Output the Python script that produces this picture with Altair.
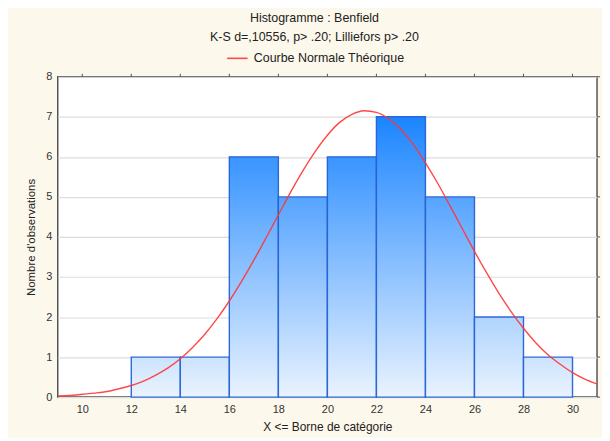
import altair as alt
import pandas as pd

# ---- data ----
bin_lo = [12, 14, 16, 18, 20, 22, 24, 26, 28]
bin_hi = [14, 16, 18, 20, 22, 24, 26, 28, 30]
counts = [1, 1, 6, 5, 6, 7, 5, 2, 1]

curve_x = [9, 9.5, 10, 10.5, 11, 11.5, 12, 12.5, 13, 13.5, 14, 14.5, 15, 15.5,
           16, 16.5, 17, 17.5, 18, 18.5, 19, 19.5, 20, 20.5, 21, 21.5, 22, 22.5,
           23, 23.5, 24, 24.5, 25, 25.5, 26, 26.5, 27, 27.5, 28, 28.5, 29, 29.5,
           30, 30.5, 31]
curve_y = [0.03, 0.04, 0.07, 0.10, 0.14, 0.21, 0.29, 0.40, 0.55, 0.73, 0.96, 1.24,
           1.57, 1.96, 2.40, 2.89, 3.42, 3.98, 4.55, 5.12, 5.65, 6.13, 6.54, 6.86,
           7.06, 7.15, 7.11, 6.95, 6.68, 6.31, 5.85, 5.34, 4.78, 4.21, 3.64, 3.10,
           2.59, 2.13, 1.72, 1.36, 1.06, 0.82, 0.61, 0.45, 0.33]

x_ticks = [10, 12, 14, 16, 18, 20, 22, 24, 26, 28, 30]
y_ticks = [0, 1, 2, 3, 4, 5, 6, 7, 8]

title_text = "Histogramme : Benfield"
subtitle_text = "K-S d=,10556, p> .20; Lilliefors p> .20"
legend_label = "Courbe Normale Théorique"

bars = pd.DataFrame({"lo": bin_lo, "hi": bin_hi, "count": counts})
curve = pd.DataFrame({"x": curve_x, "y": curve_y, "serie": legend_label})
xt = pd.DataFrame({"t": x_ticks})
yt = pd.DataFrame({"t": y_ticks})

FONT = "Liberation Sans"
W, H = 542, 322
xscale = alt.Scale(domain=[9, 31], nice=False, zero=False)
yscale = alt.Scale(domain=[0, 8], nice=False)

BOTTOM = (234, 243, 254)
TOP = (27, 133, 255)
max_count = max(counts)


def mix(t):
    r, g, b = (round(BOTTOM[i] + (TOP[i] - BOTTOM[i]) * t) for i in range(3))
    return f"#{r:02x}{g:02x}{b:02x}"


x_bottom = alt.Axis(values=x_ticks, title="X <= Borne de catégorie", grid=False,
                    ticks=False, domain=False, labelPadding=6, titlePadding=8,
                    titleFontSize=12, format="d")
y_left = alt.Axis(values=y_ticks, title="Nombre d'observations", grid=True,
                  gridColor="#dcdcdc", gridWidth=1.2, ticks=False, domain=False,
                  labelPadding=6, titlePadding=9, titleFontSize=11.5, format="d")

layers = []
for lo, c in zip(bin_lo, counts):
    top_col = mix(c / max_count)
    grad = alt.Gradient(
        gradient="linear",
        stops=[alt.GradientStop(color=top_col, offset=0),
               alt.GradientStop(color=mix(0), offset=1)],
        x1=0, x2=0, y1=0, y2=1,
    )
    layers.append(
        alt.Chart(bars)
        .transform_filter(alt.datum.lo == lo)
        .mark_bar(color=grad, stroke="#2462d4", strokeWidth=1.4, strokeOpacity=0.95)
        .encode(
            x=alt.X("lo:Q", scale=xscale, axis=x_bottom),
            x2="hi:Q",
            y=alt.Y("count:Q", scale=yscale, axis=y_left),
            y2=alt.datum(0),
        )
    )

line = (
    alt.Chart(curve)
    .mark_line(strokeWidth=1.4, interpolate="monotone", opacity=0.9, clip=True)
    .encode(
        x=alt.X("x:Q", scale=xscale),
        y=alt.Y("y:Q", scale=yscale),
        color=alt.Color(
            "serie:N",
            scale=alt.Scale(domain=[legend_label], range=["#ff3535"]),
            legend=alt.Legend(title=None, orient="none", legendX=169, legendY=-30,
                              symbolType="stroke", symbolSize=420,
                              symbolStrokeWidth=1.6, labelFontSize=12.5,
                              labelFont=FONT, labelColor="#222", labelOffset=5,
                              padding=0),
        ),
    )
)

top_ticks = alt.Chart(xt).mark_rule(color="#555", strokeWidth=1).encode(
    x=alt.X("t:Q", scale=xscale), y=alt.value(-3), y2=alt.value(0))
right_ticks = alt.Chart(yt).mark_rule(color="#555", strokeWidth=1).encode(
    y=alt.Y("t:Q", scale=yscale), x=alt.value(W), x2=alt.value(W + 3))

chart = (
    alt.layer(*layers, line, top_ticks, right_ticks)
    .properties(
        width=W,
        height=H,
        autosize=alt.AutoSizeParams(type="none"),
        padding={"left": 50, "top": 68, "right": 5, "bottom": 40},
        background="#fdf8ec",
        title=alt.TitleParams(text=title_text, subtitle=subtitle_text,
                              anchor="middle", dx=-13, offset=3,
                              subtitlePadding=7),
    )
    .configure_view(fill="white", stroke="#555", strokeWidth=1.5)
    .configure_axis(labelFont=FONT, titleFont=FONT, labelFontSize=11,
                    titleFontSize=11, labelColor="#333", titleColor="#222",
                    titleFontWeight="normal")
    .configure_title(font=FONT, fontSize=12.5, fontWeight="normal", color="#222",
                     subtitleFont=FONT, subtitleFontSize=12.5, subtitleColor="#222")
)

chart.save("out.html", embed_options={"renderer": "svg", "actions": False})
